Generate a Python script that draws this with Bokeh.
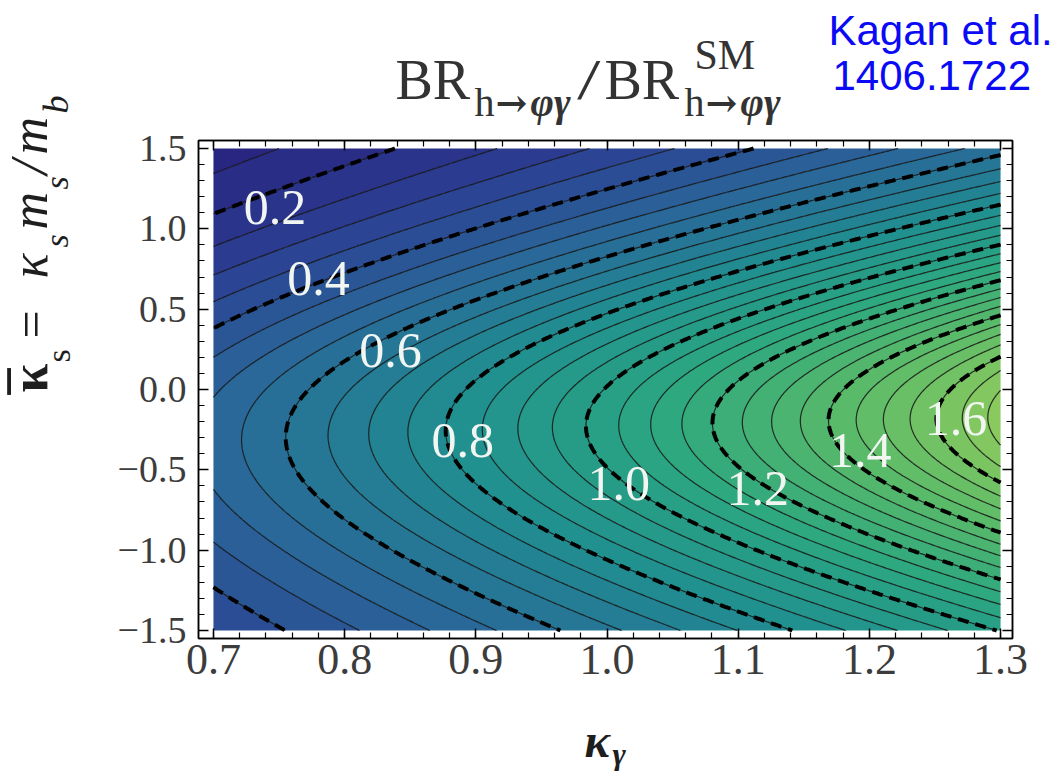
import numpy as np
from bokeh.plotting import figure
from bokeh.layouts import row, column
from bokeh.models import Range1d, LinearAxis, FixedTicker, Label
from bokeh.embed import file_html
from bokeh.resources import INLINE

# ---- plotted domain ---------------------------------------------------------
kappa_gamma_lim = [0.7, 1.3]
kappa_s_lim = [-1.5, 1.5]

# ---- model: BR(h -> phi gamma) normalised to the SM -------------------------
# amplitude ~ kappa_gamma - delta * kappa_s_bar, total width grows with kappa_s_bar^2
delta_direct = 0.119      # direct / indirect amplitude ratio
width_share = 0.528       # relative h -> s sbar width per unit kappa_s_bar^2
kappa_s_sm = 0.02         # m_s / m_b in the SM

# contour levels
major_levels = [0.2, 0.4, 0.6, 0.8, 1.0, 1.2, 1.4, 1.6]
fine_levels = [round(v, 2) for v in np.arange(0.10, 1.8001, 0.05)]

# ticks
x_ticks = [0.7, 0.8, 0.9, 1.0, 1.1, 1.2, 1.3]
x_tick_labels = ["0.7", "0.8", "0.9", "1.0", "1.1", "1.2", "1.3"]
x_minor = [round(v, 2) for v in np.arange(0.68, 1.3101, 0.02)]
y_ticks = [-1.5, -1.0, -0.5, 0.0, 0.5, 1.0, 1.5]
y_tick_labels = ["\u22121.5", "\u22121.0", "\u22120.5", "0.0", "0.5", "1.0", "1.5"]
y_minor = [round(v, 1) for v in np.arange(-1.5, 1.501, 0.1)]

# where each contour value is written
label_kappa_gamma = [0.747, 0.780, 0.835, 0.890, 1.009, 1.115, 1.193, 1.266]
label_kappa_s = [1.133, 0.690, 0.243, -0.317, -0.585, -0.616, -0.379, -0.180]

# colour ramp (value -> colour)
ramp_values = [0.10, 0.30, 0.50, 0.80, 1.10, 1.40, 1.80]
ramp_colors = ["#29227f", "#2b3f92", "#2a6499", "#208f90", "#2ba681", "#55b96b", "#96cd5a"]


def ratio(kg, ks):
    num = (kg - delta_direct * ks) ** 2 / (1.0 + width_share * ks ** 2)
    sm = (1.0 - delta_direct * kappa_s_sm) ** 2 / (1.0 + width_share * kappa_s_sm ** 2)
    return num / sm


def ramp(v):
    rgb = [tuple(int(c[i:i + 2], 16) for i in (1, 3, 5)) for c in ramp_colors]
    v = min(max(v, ramp_values[0]), ramp_values[-1])
    for k in range(len(ramp_values) - 1):
        if v <= ramp_values[k + 1]:
            t = (v - ramp_values[k]) / (ramp_values[k + 1] - ramp_values[k])
            c = [round(a + (b - a) * t) for a, b in zip(rgb[k], rgb[k + 1])]
            return "#%02x%02x%02x" % tuple(c)
    return ramp_colors[-1]


xs = np.linspace(kappa_gamma_lim[0], kappa_gamma_lim[1], 301)
ys = np.linspace(kappa_s_lim[0], kappa_s_lim[1], 301)
XX, YY = np.meshgrid(xs, ys)
ZZ = ratio(XX, YY)

band_colors = [ramp(0.5 * (a + b)) for a, b in zip(fine_levels[:-1], fine_levels[1:])]

# ---- page geometry (pixels) -------------------------------------------------
PAGE_W, PAGE_H = 1060, 771
SIDE_W = 80           # strip holding the vertical axis title
HEAD_H = 127          # strip holding the plot title
FRAME_L, FRAME_T, FRAME_W, FRAME_H = 198, 140, 814, 498
BOTTOM = 60           # room for the x tick labels
FOOT_H = PAGE_H - FRAME_T - FRAME_H - BOTTOM


def no_align(f):
    if "frame_align" in f.properties():
        f.frame_align = False


# ---- main contour figure ----------------------------------------------------
p = figure(frame_width=FRAME_W, frame_height=FRAME_H, title=None,
           min_border_left=FRAME_L - SIDE_W,
           min_border_right=PAGE_W - FRAME_L - FRAME_W,
           min_border_top=FRAME_T - HEAD_H, min_border_bottom=BOTTOM,
           x_range=Range1d(0.6886, 1.3091), y_range=Range1d(-1.55, 1.55),
           output_backend="svg", toolbar_location=None)
no_align(p)
p.grid.visible = False
p.background_fill_color = "white"
p.border_fill_color = "white"
p.outline_line_color = "black"
p.outline_line_width = 1.5

p.contour(x=xs, y=ys, z=ZZ, levels=fine_levels, fill_color=band_colors,
          line_color="#101010", line_width=1.2, line_alpha=0.85)
p.contour(x=xs, y=ys, z=ZZ, levels=major_levels,
          line_color="black", line_width=4, line_dash="11 7")

# contour value labels
for lv, kx, ky in zip(major_levels, label_kappa_gamma, label_kappa_s):
    p.add_layout(Label(x=kx, y=ky, text=f"{lv:.1f}", text_align="center",
                       text_baseline="middle", text_font="Liberation Serif",
                       text_font_size="50px", text_color="#f2f6f2"))

# ---- axes: ticks pointing inward on all four sides --------------------------
xt = FixedTicker(ticks=x_ticks, minor_ticks=x_minor)
yt = FixedTicker(ticks=y_ticks, minor_ticks=y_minor)


def style_axis(ax, ticker):
    ax.ticker = ticker
    ax.axis_line_color = "black"
    ax.axis_line_width = 1.5
    ax.major_tick_in = 10
    ax.major_tick_out = 0
    ax.minor_tick_in = 6
    ax.minor_tick_out = 0
    ax.major_tick_line_width = 1.5
    ax.minor_tick_line_width = 1.2
    ax.major_tick_line_color = "black"
    ax.minor_tick_line_color = "black"
    ax.major_label_text_font = "Liberation Serif"
    ax.major_label_text_color = "#3c3c3c"


style_axis(p.xaxis[0], xt)
p.xaxis[0].major_label_overrides = dict(zip(x_ticks, x_tick_labels))
p.xaxis[0].major_label_text_font_size = "44px"
p.xaxis[0].major_label_standoff = 6
style_axis(p.yaxis[0], yt)
p.yaxis[0].major_label_overrides = dict(zip(y_ticks, y_tick_labels))
p.yaxis[0].major_label_text_font_size = "38px"
p.yaxis[0].major_label_standoff = 12

for ticker, ticks, side_name in ((xt, x_ticks, "above"), (yt, y_ticks, "right")):
    ax = LinearAxis()
    style_axis(ax, ticker)
    ax.major_label_overrides = {t: "" for t in ticks}
    ax.major_label_text_font_size = "1px"
    ax.major_label_standoff = 0
    p.add_layout(ax, side_name)


# ---- strips around the plot for titles (coordinates are page pixels) --------
def strip(w, h, x0, y0):
    f = figure(width=w, height=h, x_range=Range1d(x0, x0 + w),
               y_range=Range1d(y0 + h, y0), x_axis_type=None, y_axis_type=None,
               title=None, min_border=0, output_backend="svg", toolbar_location=None)
    no_align(f)
    f.outline_line_color = None
    f.grid.visible = False
    f.background_fill_color = "white"
    f.border_fill_color = "white"
    return f


side = strip(SIDE_W, PAGE_H, 0, 0)
head = strip(PAGE_W - SIDE_W, HEAD_H, SIDE_W, 0)
foot = strip(PAGE_W - SIDE_W, FOOT_H, SIDE_W, PAGE_H - FOOT_H)

BASE_SHIFT = 0.36   # alphabetic baseline sits this many em below the anchor


def put(f, text, px, py, size, font="Liberation Serif", style="normal",
        color="#2e2e2e", angle=0.0):
    # (px, py): start of the text on its baseline, in page pixels
    if angle:
        px = px - BASE_SHIFT * size
    else:
        py = py - BASE_SHIFT * size
    f.add_layout(Label(x=px, y=py, text=text, text_font=font,
                       text_font_size=f"{size}px", text_font_style=style,
                       text_color=color, angle=angle, angle_units="deg",
                       text_align="left", text_baseline="alphabetic"))


# title  BR_{h->phi gamma} / BR^{SM}_{h->phi gamma}
TITLE_C = "#333333"
put(head, "BR", 395, 100, 56, color=TITLE_C)
put(head, "h", 474, 116, 40, color=TITLE_C)
put(head, "\u2192", 495, 116, 38, font="DejaVu Serif", style="bold", color=TITLE_C)
put(head, "\u03c6\u03b3", 530, 116, 40, style="bold italic", color=TITLE_C)
put(head, "/", 580, 100, 56, style="bold italic", color=TITLE_C)
put(head, "BR", 604, 100, 56, color=TITLE_C)
put(head, "SM", 694, 70, 42, color=TITLE_C)
put(head, "h", 684, 116, 40, color=TITLE_C)
put(head, "\u2192", 705, 116, 38, font="DejaVu Serif", style="bold", color=TITLE_C)
put(head, "\u03c6\u03b3", 740, 116, 40, style="bold italic", color=TITLE_C)

# reference note
put(head, "Kagan et al.", 828, 45, 42, font="Liberation Sans", color="#0a0af5")
put(head, "1406.1722", 832, 90, 42, font="Liberation Sans", color="#0a0af5")

# x axis title  kappa_gamma
put(foot, "\u03ba", 584, 757, 48, style="bold italic", color="#1e1e1e")
put(foot, "\u03b3", 612, 765, 32, style="bold italic", color="#1e1e1e")

# y axis title  kappa_bar_s = kappa_s m_s / m_b  (rotated, reading upward)
YL_C = "#1e1e1e"
put(side, "\u03ba", 48, 392, 52, style="bold", color=YL_C, angle=90)
put(side, "\u00af", 48, 394, 52, style="bold", color=YL_C, angle=90)
put(side, "s", 70, 362, 34, color=YL_C, angle=90)
put(side, "=", 48, 338, 50, color=YL_C, angle=90)
put(side, "\u03ba", 48, 278, 52, style="italic", color=YL_C, angle=90)
put(side, "s", 68, 247, 34, style="italic", color=YL_C, angle=90)
put(side, "m", 48, 229, 52, style="italic", color=YL_C, angle=90)
put(side, "s", 68, 189, 34, style="italic", color=YL_C, angle=90)
put(side, "/", 48, 174, 52, style="italic", color=YL_C, angle=90)
put(side, "m", 48, 154, 52, style="italic", color=YL_C, angle=90)
put(side, "b", 68, 113, 36, style="italic", color=YL_C, angle=90)

layout = row(side, column(head, p, foot, spacing=0), spacing=0)
open("out.html", "w").write(file_html(layout, INLINE))
